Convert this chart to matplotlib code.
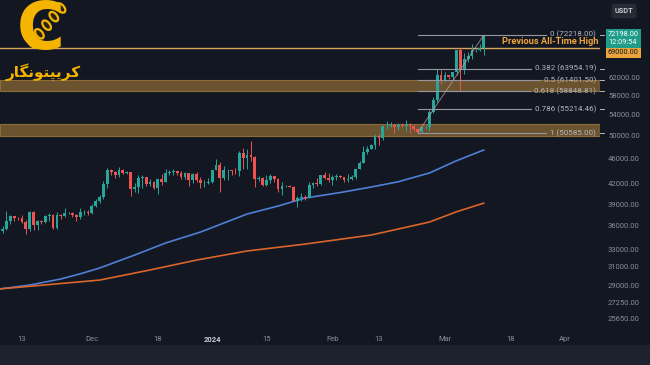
import numpy as np
import pandas as pd
import matplotlib
matplotlib.use("Agg")
import matplotlib.pyplot as plt
import matplotlib.dates as mdates
from matplotlib.patches import Ellipse
from matplotlib.transforms import IdentityTransform
from matplotlib.ticker import FixedLocator, NullLocator

# daily BTC/USDT candles, Nov 7 2023 .. Mar 11 2024
dates = pd.date_range("2023-11-07", "2024-03-11", freq="D")
prev_close = 35047
closes = [
    35399, 35624, 36701, 37311, 37130, 37064, 36462, 35551, 37858, 36163, 36614, 36568,
    37359, 37448, 35741, 37410, 37289, 37720, 37796, 37480, 37242, 37818, 37855, 37712,
    38688, 39476, 39978, 41981, 44080, 43772, 43292, 44170, 43713, 43789, 41253, 41492,
    42869, 43023, 41929, 42240, 41365, 42657, 42270, 43652, 43870, 43997, 43739, 43016,
    43614, 42520, 43442, 42581, 42070, 42140, 42283,
    44179, 44946, 42845, 44151, 44162, 43974, 43930, 46970, 46122, 46656, 46354, 42782,
    42842, 41732, 42511, 43138, 42776, 41262, 41618, 41665, 41545, 39507, 39845, 40077,
    39933, 41816, 42120, 42035, 43300, 42946, 42582,
    43076, 43185, 42992, 42580, 42659, 43085, 44340, 45293, 47132, 47751, 48300, 49917,
    49699, 51795, 51906, 52135, 51640, 52123, 51780, 52284, 51839, 51304, 50731, 51572,
    51733, 54522, 57085, 62504, 61198,
    62440, 62029, 63168, 68330, 63801, 66106, 66925, 68300, 68498, 69020, 72198,
]
highs = [
    35900, 35980, 37972, 37526, 37399, 37227, 37420, 36765, 37980, 37999, 36845, 36860,
    37540, 37750, 37650, 37860, 37653, 38415, 37892, 37820, 37589, 38380, 38150, 38100,
    38998, 39680, 40280, 42420, 44490, 44295, 44050, 44700, 44365, 44040, 43800, 42100,
    43430, 43420, 43085, 42720, 42430, 42750, 43497, 44275, 44240, 44398, 44020, 43945,
    43800, 43650, 43680, 43800, 43120, 42600, 42900,
    44230, 45900, 45500, 44730, 44350, 44190, 44500, 47250, 47900, 47700, 49000, 46500,
    43260, 43080, 43400, 43578, 43200, 42930, 42200, 41870, 41850, 41680, 40130, 40540,
    40280, 42220, 42200, 42840, 43320, 43880, 43740,
    43290, 43480, 43380, 43120, 43500, 43400, 44380, 45600, 48200, 48150, 48600, 50330,
    50370, 52000, 52820, 52570, 52200, 52350, 52480, 52980, 52370, 52000, 51550, 51680,
    51950, 54900, 57550, 63900, 63680,
    63150, 62450, 63230, 68500, 69000, 67650, 67990, 69990, 68680, 69950, 72218,
]
lows = [
    34525, 35100, 35534, 36324, 36710, 36760, 36333, 34950, 35360, 35534, 35500, 36200,
    36400, 36700, 35632, 35650, 36870, 37251, 37617, 37150, 36681, 36868, 37500, 37500,
    37615, 38650, 39200, 39700, 41420, 43335, 42820, 43080, 43585, 43565, 40222, 40680,
    40672, 41424, 41666, 41680, 41250, 40500, 41792, 42218, 43300, 43412, 43300, 42765,
    42720, 41650, 42100, 42300, 41300, 41520, 41965,
    42180, 44150, 40750, 42630, 42600, 43400, 43580, 43200, 44300, 44300, 45600, 41500,
    42440, 41720, 41700, 42050, 42200, 40683, 40280, 41450, 41450, 39430, 38555, 39490,
    39540, 39820, 41400, 41620, 41800, 42700, 42300,
    41880, 42590, 42880, 42260, 42250, 42580, 42780, 44330, 45240, 46800, 47700, 47700,
    48300, 49250, 51300, 51600, 50620, 51180, 51720, 50850, 50630, 50900, 50585, 50590,
    51280, 50900, 54450, 56700, 60360,
    60800, 61560, 61320, 62380, 59000, 62600, 65600, 66100, 67900, 68200, 67100,
]

# moving averages
ma100_dates = ["2023-11-07", "2023-11-15", "2023-11-23", "2023-11-28", "2023-12-03",
               "2023-12-12", "2023-12-20", "2023-12-29", "2024-01-10", "2024-01-18",
               "2024-01-25", "2024-02-03", "2024-02-11", "2024-02-18", "2024-02-26",
               "2024-03-04", "2024-03-11"]
ma100 = [28600, 29020, 29670, 30230, 30880, 32370, 33830, 35210, 37600, 38720,
         39870, 40670, 41500, 42310, 43680, 45680, 47500]
ma200_dates = ["2023-11-07", "2023-12-03", "2023-12-16", "2023-12-28", "2024-01-10",
               "2024-01-25", "2024-02-11", "2024-02-26", "2024-03-04", "2024-03-11"]
ma200 = [28600, 29550, 30660, 31790, 32860, 33700, 34830, 36520, 37920, 39130]

# zones, levels
zone_tops = [61400, 52200]
zone_bottoms = [58850, 50000]
prev_ath = 69000
fib_high = 72218
fib_low = 50585
fib_ratios = [0, 0.382, 0.5, 0.618, 0.786, 1]
fib_start = "2024-02-23"
fib_end = "2024-03-11"

price_ticks = [62000, 58000, 54000, 50000, 46000, 42000, 39000, 36000, 33000,
               31000, 29000, 27250, 25650]
date_ticks = ["2023-11-13", "2023-12-01", "2023-12-18", "2024-01-01", "2024-01-15",
              "2024-02-01", "2024-02-13", "2024-03-01", "2024-03-18", "2024-04-01"]
date_labels = ["13", "Dec", "18", "2024", "15", "Feb", "13", "Mar", "18", "Apr"]
last_price = 72198
countdown = "12:09:54"

# colours
BG = "#131722"
UP = "#26a69a"
DOWN = "#ef5350"
AXIS_TXT = "#8a8e99"
GOLD = "#f5b400"

W, H = 650, 365
fig = plt.figure(figsize=(W / 100, H / 100), dpi=100, facecolor=BG)
ax = fig.add_axes([0, 33 / H, 600 / W, 332 / H])
ax.set_facecolor(BG)
for s in ax.spines.values():
    s.set_visible(False)

# bottom strip
fig.add_artist(plt.Rectangle((0, 0), 1, 20 / H, transform=fig.transFigure,
                             facecolor="#1e222d", edgecolor="none"))

x = mdates.date2num(dates.to_pydatetime())
c = np.array(closes, dtype=float)
o = np.r_[prev_close, c[:-1]]
hi = np.array(highs, dtype=float)
lo = np.array(lows, dtype=float)
up = c >= o
cols = np.where(up, UP, DOWN)

ax.set_yscale("log")
ax.set_ylim(24450, 82120)
x0 = mdates.date2num(pd.Timestamp("2023-11-13").to_pydatetime())
ax.set_xlim(x0 - 5.67, x0 + 148.97)

# zones
for t, b in zip(zone_tops, zone_bottoms):
    ax.axhspan(b, t, facecolor="#6b5330", edgecolor="#8d6c3a", lw=0.8, zorder=1)

# moving averages
ax.plot(mdates.date2num(pd.to_datetime(ma100_dates).to_pydatetime()), ma100,
        color="#4f7fd6", lw=1.2, zorder=2, solid_joinstyle="round")
ax.plot(mdates.date2num(pd.to_datetime(ma200_dates).to_pydatetime()), ma200,
        color="#d9652b", lw=1.2, zorder=2, solid_joinstyle="round")

# candles
ax.vlines(x, lo, hi, colors=cols, lw=0.7, zorder=3)
body_lo = np.minimum(o, c)
body_h = np.maximum(np.abs(c - o), body_lo * 0.0015)
ax.bar(x, body_h, bottom=body_lo, width=0.72, color=cols, lw=0, zorder=3)

# previous ATH line
ax.axhline(prev_ath, color="#d9a55f", lw=1.0, zorder=2)
ax.annotate("Previous All-Time High", xy=(598 / 600, prev_ath),
            xycoords=ax.get_yaxis_transform(), xytext=(0, 2.6),
            textcoords="offset points", ha="right", va="baseline",
            fontsize=6.7, fontweight="bold", family="Roboto", color="#f0a43a",
            zorder=6)

# fibonacci
fs = mdates.date2num(pd.Timestamp(fib_start).to_pydatetime())
fe = mdates.date2num(pd.Timestamp(fib_end).to_pydatetime())
ax.plot([fs, fe], [fib_low, fib_high], color="#c8a4a4", lw=0.6, alpha=0.8, zorder=4)
fib_texts = []
for r in fib_ratios:
    p = fib_high - r * (fib_high - fib_low)
    t = ax.annotate(f"{r:g} ({p:.2f})", xy=(596 / 600, p),
                    xycoords=ax.get_yaxis_transform(),
                    xytext=(0, 1.0 if r == 0 else 0), textcoords="offset points",
                    ha="right", va="center", fontsize=5.8, family="Roboto",
                    color="#b2b5be", zorder=6)
    fib_texts.append((t, p))
    ax.plot([1.0, 1.007], [p, p], transform=ax.get_yaxis_transform(),
            color="#b2b5be", lw=0.7, clip_on=False)

# axes ticks
ax.yaxis.tick_right()
ax.yaxis.set_major_locator(FixedLocator(price_ticks))
ax.yaxis.set_minor_locator(NullLocator())
ax.set_yticklabels([f"{v:.2f}" for v in price_ticks])
ax.tick_params(axis="y", length=0, pad=5.8, labelsize=5.5, labelcolor=AXIS_TXT)
for lb in ax.get_yticklabels():
    lb.set_family("Roboto")

ax.set_xticks(mdates.date2num(pd.to_datetime(date_ticks).to_pydatetime()))
ax.set_xticklabels(date_labels)
ax.tick_params(axis="x", length=0, pad=3, labelsize=5.5, labelcolor=AXIS_TXT)
for lb in ax.get_xticklabels():
    lb.set_family("Roboto")
    if lb.get_text() == "2024":
        lb.set_fontweight("bold")
        lb.set_color("#c9ccd4")

# price tags on the scale
ytr = ax.get_yaxis_transform()
ax.annotate(f"{last_price:.2f}\n{countdown}", xy=(608 / 600, last_price), xycoords=ytr,
            xytext=(0, 3.0), textcoords="offset points", ha="left", va="top",
            fontsize=5.3, family="Roboto", color="white", linespacing=1.15,
            bbox=dict(boxstyle="square,pad=0.25", facecolor="#1f9d8a", edgecolor="none"),
            annotation_clip=False)
ax.annotate(f"{prev_ath:.2f}", xy=(608 / 600, prev_ath), xycoords=ytr,
            xytext=(0, -1.2), textcoords="offset points", ha="left", va="top",
            fontsize=5.3, family="Roboto", color="#131722",
            bbox=dict(boxstyle="square,pad=0.25", facecolor="#eba43c", edgecolor="none"),
            annotation_clip=False)
fig.text(624 / W, 1 - 11 / H, "USDT", ha="center", va="center", fontsize=5.3,
         family="Roboto", fontweight="bold", color="#c8cad0",
         bbox=dict(boxstyle="round,pad=0.45", facecolor="#262a35", edgecolor="none"))

# end fib lines just before their labels
fig.canvas.draw()
rend = fig.canvas.get_renderer()
inv = ax.transData.inverted()
for t, p in fib_texts:
    left = t.get_window_extent(rend).x0 - 4
    xe = inv.transform((left, 0))[0]
    ax.plot([fs, xe], [p, p], color="#9598a1", lw=0.8, zorder=4)

# logo: gold C with a chain running through it
fig.text(41 / W, 1 - 31 / H, "C", ha="center", va="center", fontsize=47,
         fontweight="bold", family="DejaVu Sans", color=GOLD)
for i in range(5):
    cx = 61 - i * 7.2
    cy = 8 + i * 8.6
    fig.add_artist(Ellipse((cx, H - cy), 11, 6.5, angle=-50 if i % 2 else -50,
                           transform=IdentityTransform(), facecolor="#2b2410",
                           edgecolor=GOLD, lw=1.6))
word = "\uFEAD\uFE8E\uFB95\uFEE7\uFEEE\uFE98\uFB59\uFBFE\uFEAE\uFB90"
fig.text(43 / W, 1 - 72 / H, word, ha="center", va="center", fontsize=11,
         fontweight="bold", family="DejaVu Sans", color=GOLD)

fig.savefig("out.png", dpi=100, facecolor=BG)
